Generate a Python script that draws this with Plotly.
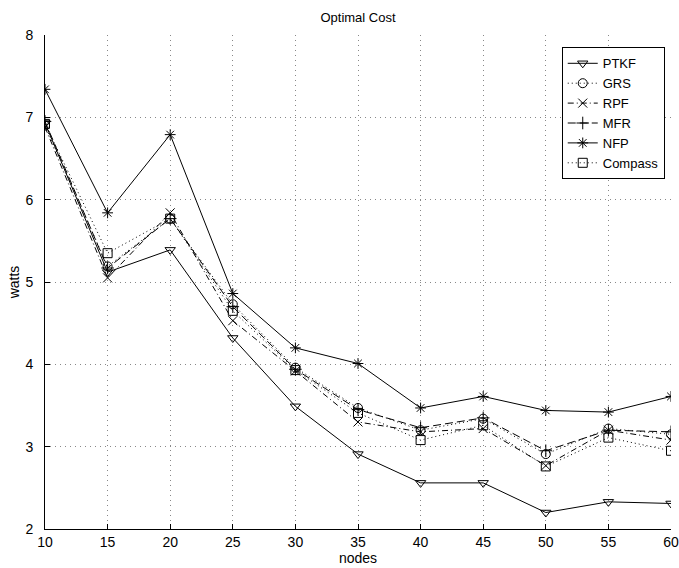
import plotly.graph_objects as go

nodes = [10, 15, 20, 25, 30, 35, 40, 45, 50, 55, 60]
ptkf = [6.93, 5.12, 5.39, 4.32, 3.49, 2.91, 2.56, 2.56, 2.20, 2.33, 2.31]
grs = [6.90, 5.19, 5.77, 4.73, 3.96, 3.47, 3.20, 3.34, 2.91, 3.22, 3.15]
rpf = [6.88, 5.05, 5.84, 4.53, 3.92, 3.30, 3.18, 3.22, 2.77, 3.20, 3.08]
mfr = [6.95, 5.17, 5.77, 4.70, 3.94, 3.45, 3.23, 3.35, 2.95, 3.20, 3.18]
nfp = [7.34, 5.84, 6.79, 4.86, 4.20, 4.01, 3.47, 3.61, 3.44, 3.42, 3.61]
compass = [6.92, 5.35, 5.77, 4.65, 3.93, 3.41, 3.08, 3.26, 2.76, 3.11, 2.95]

series = [
    ("PTKF", ptkf, "triangle-down-open", "solid"),
    ("GRS", grs, "circle-open", "1px,3px"),
    ("RPF", rpf, "x-thin-open", "6px,3px,1px,3px"),
    ("MFR", mfr, "cross-thin-open", "8px,4px"),
    ("NFP", nfp, "asterisk-open", "solid"),
    ("Compass", compass, "square-open", "1px,3px"),
]

fig = go.Figure()
for name, vals, sym, dash in series:
    fig.add_trace(go.Scatter(
        x=nodes, y=vals, name=name, mode="lines+markers",
        line=dict(color="black", width=1, dash=dash),
        marker=dict(symbol=sym, size=9, color="black", line=dict(color="black", width=1)),
    ))

fig.update_layout(
    width=679, height=568,
    margin=dict(l=45, r=8, t=35, b=39),
    paper_bgcolor="white", plot_bgcolor="white",
    font=dict(family="Liberation Sans, Arial, sans-serif", size=14, color="black"),
    title=dict(text="Optimal Cost", x=0.5, xref="paper", y=1 - 17/568, yanchor="middle",
               font=dict(size=13)),
    showlegend=True,
    legend=dict(x=0.99, y=0.975, xanchor="right", yanchor="top",
                bordercolor="black", borderwidth=1, bgcolor="white",
                font=dict(size=13), tracegroupgap=0),
)
fig.update_xaxes(
    range=[10, 60], tickvals=nodes, ticks="inside", ticklen=5, tickcolor="black",
    automargin=False,
    showline=True, linecolor="black", linewidth=1, mirror=False,
    showgrid=True, gridcolor="#888888", griddash="1px,4px", gridwidth=1,
    zeroline=False, title=dict(text="nodes", standoff=3, font=dict(size=14)),
)
fig.update_yaxes(
    range=[2, 8], tickvals=[2, 3, 4, 5, 6, 7, 8], ticks="inside", ticklen=5, tickcolor="black",
    ticklabelstandoff=8, automargin=False,
    showline=True, linecolor="black", linewidth=1, mirror=False,
    showgrid=True, gridcolor="#888888", griddash="1px,4px", gridwidth=1,
    zeroline=False, title=dict(text="watts", standoff=2, font=dict(size=14)),
)

fig.write_html("out.html")
